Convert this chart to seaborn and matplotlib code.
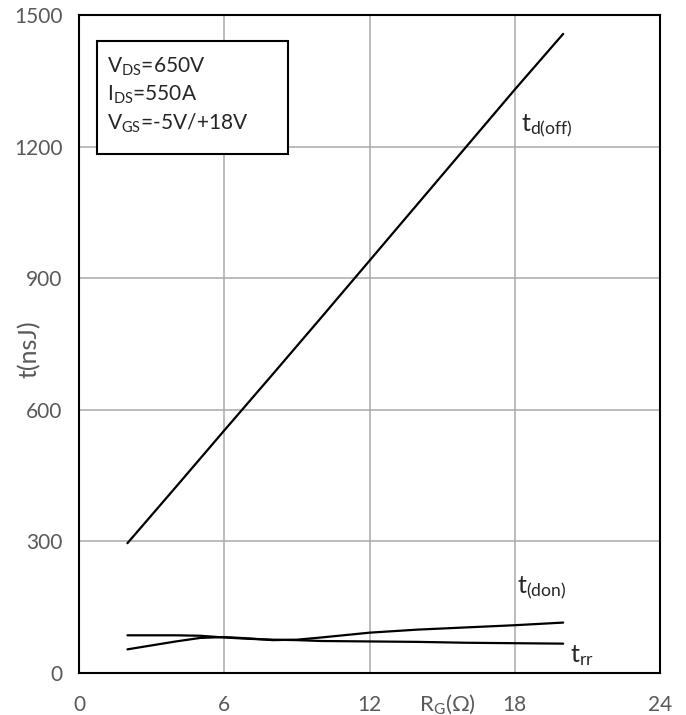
import numpy as np
import pandas as pd
import matplotlib
matplotlib.use('Agg')
import matplotlib.pyplot as plt
from matplotlib.patches import Rectangle
import seaborn as sns

# values
rg_off = [2, 4, 6, 8, 10, 12, 14, 16, 18, 20]
td_off = [296, 424, 553, 681, 810, 940, 1070, 1200, 1330, 1457]

rg_on = [2, 3, 4, 5, 6, 7, 8, 9, 10, 12, 14, 16, 18, 20]
td_on = [54, 63, 72, 80, 82, 79, 75, 76, 81, 92, 99, 104, 109, 115]

rg_rr = [2, 3, 4, 5, 6, 7, 8, 9, 10, 12, 14, 16, 18, 20]
t_rr = [86, 86, 86, 85, 81, 78, 76, 75, 73, 72, 71, 69, 68, 67]

x_ticks = [0, 6, 12, 18, 24]
y_ticks = [0, 300, 600, 900, 1200, 1500]

df = pd.concat([
    pd.DataFrame({'rg': rg_off, 't': td_off, 'curve': 'td_off'}),
    pd.DataFrame({'rg': rg_on, 't': td_on, 'curve': 'td_on'}),
    pd.DataFrame({'rg': rg_rr, 't': t_rr, 'curve': 'trr'}),
])

sns.set_style('whitegrid')
plt.rcParams['font.family'] = ['Lato', 'DejaVu Sans']
plt.rcParams['mathtext.default'] = 'regular'

gray = '#595959'

fig = plt.figure(figsize=(6.86, 7.15), dpi=100)
ax = fig.add_axes([0.1152, 0.0587, 0.8469, 0.9203])

sns.lineplot(data=df, x='rg', y='t', hue='curve', units='curve', estimator=None,
             palette=['black', 'black', 'black'], linewidth=1.6, legend=False, ax=ax)

ax.set_xlim(0, 24)
ax.set_ylim(0, 1500)
ax.set_xticks(x_ticks)
ax.set_yticks(y_ticks)
ax.tick_params(length=0, labelsize=15, labelcolor=gray)
ax.tick_params(axis='y', pad=12)
ax.tick_params(axis='x', pad=16)
ax.grid(True, color='#a9a9a9', linewidth=1.1)
for s in ax.spines.values():
    s.set_color('black')
    s.set_linewidth(1.5)
    s.set_visible(True)

ax.set_ylabel('t(nsJ)', fontsize=18, color=gray)
ax.yaxis.set_label_coords(-0.0654, 0.492)
ax.set_xlabel(r'R$_{G}$(Ω)', fontsize=16, color=gray, va='baseline')
ax.xaxis.set_label_coords(0.635, -0.0578)

# curve labels
ax.text(18.25, 1234, r't$_{d(off)}$', fontsize=18, va='baseline')
ax.text(18.1, 182, r't$_{(don)}$', fontsize=18, va='baseline')
ax.text(20.3, 26, r't$_{rr}$', fontsize=18, va='baseline')

# condition box
ax.add_patch(Rectangle((0.76, 1183), 7.86, 258, facecolor='white',
                       edgecolor='black', linewidth=1.5, zorder=5))
ax.text(1.15, 1368, r'V$_{DS}$=650V', fontsize=15, va='baseline', zorder=6)
ax.text(1.15, 1304, r'I$_{DS}$=550A', fontsize=15, va='baseline', zorder=6)
ax.text(1.15, 1239, r'V$_{GS}$=-5V/+18V', fontsize=15, va='baseline', zorder=6)

fig.savefig('out.png', dpi=100)
